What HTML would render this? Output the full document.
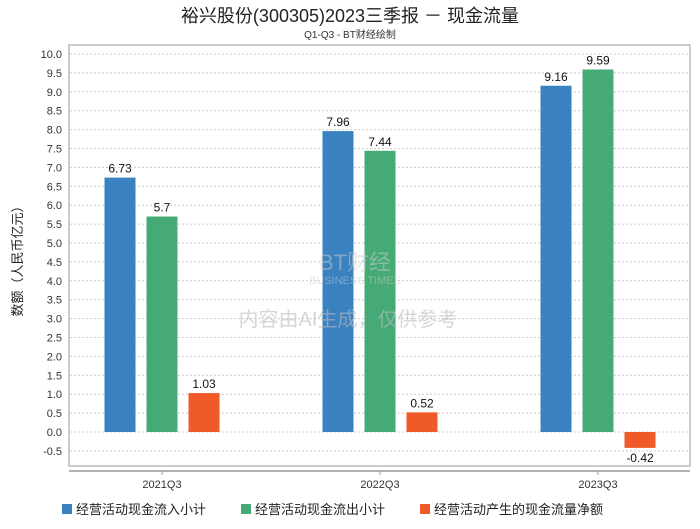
<!DOCTYPE html>
<html><head><meta charset="utf-8"><style>
body{margin:0;background:#fff;width:700px;height:524px;overflow:hidden;font-family:"Liberation Sans","Noto Sans CJK SC",sans-serif}
</style></head><body>
<svg id="c" width="700" height="524" xmlns="http://www.w3.org/2000/svg">
<text x="350" y="22" text-anchor="middle" font-size="18" fill="#222">裕兴股份(300305)2023三季报 － 现金流量</text>
<text x="350" y="38" text-anchor="middle" font-size="10" fill="#333">Q1-Q3 - BT财经绘制</text>
<rect x="69" y="45" width="621" height="421" fill="none" stroke="#999"/>
<line x1="69" y1="471" x2="690" y2="471" stroke="#999" stroke-width="1.5"/>
<text transform="translate(22,258) rotate(-90)" text-anchor="middle" font-size="13" fill="#222">数额（人民币亿元）</text>
<g id="grid"></g><g id="bars"></g><g id="legend"></g>
<text x="348" y="326" text-anchor="middle" font-size="20" fill="#bbb" fill-opacity="0.6">内容由AI生成，仅供参考</text>
<text x="355" y="270" text-anchor="middle" font-size="22" fill="#ccc" fill-opacity="0.5">BT财经</text>
<text x="355" y="284" text-anchor="middle" font-size="11" fill="#ccc" fill-opacity="0.5">BUSINESS TIMES</text>
</svg>
<script>
const categories=["2021Q3","2022Q3","2023Q3"];
const seriesNames=["经营活动现金流入小计","经营活动现金流出小计","经营活动产生的现金流量净额"];
const inflow=[6.73,7.96,9.16];
const outflow=[5.7,7.44,9.59];
const net=[1.03,0.52,-0.42];
const labels=[["6.73","7.96","9.16"],["5.7","7.44","9.59"],["1.03","0.52","-0.42"]];
const yTicks=[-0.5,0,0.5,1,1.5,2,2.5,3,3.5,4,4.5,5,5.5,6,6.5,7,7.5,8,8.5,9,9.5,10];
const colors=["#3a81c0","#45aa75","#f05a28"];
const NS="http://www.w3.org/2000/svg";
const y=v=>432-v*37.8;
const x=i=>162+i*218;
function mk(t,a,p){const e=document.createElementNS(NS,t);for(const k in a)e.setAttribute(k,a[k]);p.appendChild(e);return e;}
const g=document.getElementById('grid');
yTicks.forEach(v=>{
 const l=mk('line',{x1:70,x2:690,y1:y(v),y2:y(v),stroke:'#ccc','stroke-dasharray':'2,2'},g);
 
 
 const t=mk('text',{x:62,y:y(v)+4,'text-anchor':'end','font-size':11,fill:'#333'},g);
 t.textContent=v.toFixed(1);
 
 
});
const b=document.getElementById('bars');
const data=[inflow,outflow,net];
categories.forEach((c,i)=>{
 const t=mk('text',{x:x(i),y:488,'text-anchor':'middle','font-size':11,fill:'#333'},b);
 t.textContent=c;
 
 
 mk('line',{x1:x(i),x2:x(i),y1:471,y2:475,stroke:'#999'},b);
 data.forEach((s,j)=>{
  const v=s[i],cx=x(i)+(j-1)*42;
  const r=mk('rect',{x:cx-15.5,y:Math.min(y(v),y(0)),width:31,height:Math.abs(y(v)-y(0)),fill:colors[j]},b);
  
  
  const lt=mk('text',{x:cx,y:v>=0?y(v)-5:y(v)+14,'text-anchor':'middle','font-size':12,fill:'#111'},b);
  lt.textContent=labels[j][i];
  
  
 });
});
const lg=document.getElementById('legend');
const lx=[62,241,420];
seriesNames.forEach((n,j)=>{
 const r=mk('rect',{x:lx[j],y:504,width:10,height:10,fill:colors[j]},lg);
 
 
 const t=mk('text',{x:lx[j]+14,y:514,'font-size':13,fill:'#222'},lg);
 t.textContent=n;
 
 
});
</script>
</body></html>
